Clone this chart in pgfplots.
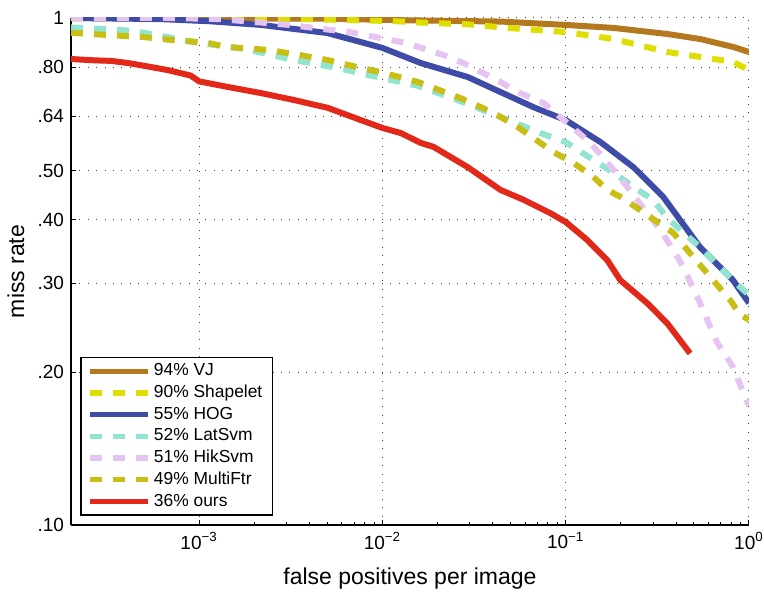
\documentclass[border=0pt]{standalone}
\usepackage{fontspec}
\setmainfont{Liberation Sans}
\usepackage{pgfplots}
\pgfplotsset{compat=1.18}
\definecolor{cVJ}{RGB}{180,120,30}
\definecolor{cShape}{RGB}{222,222,0}
\definecolor{cHOG}{RGB}{62,76,168}
\definecolor{cLat}{RGB}{145,228,208}
\definecolor{cHik}{RGB}{230,196,242}
\definecolor{cMulti}{RGB}{200,190,20}
\definecolor{cOurs}{RGB}{225,40,25}
\begin{document}
\begin{tikzpicture}
\path[use as bounding box] (-35.5pt,-33.5pt) rectangle (346.5pt,262.5pt);
\begin{axis}[
  scale only axis, width=339pt, height=253.5pt,
  xmode=log, ymode=log,
  xmin=2e-4, xmax=1, ymin=0.1, ymax=1,
  axis x line*=bottom, axis y line*=left,
  axis line style={line width=0.6pt,-},
  xtick={0.001,0.01,0.1,1},
  xticklabels={10\textsuperscript{−3},10\textsuperscript{−2},10\textsuperscript{−1},10\textsuperscript{0}},
  ytick={0.1,0.2,0.3,0.4,0.5,0.64,0.8,1},
  yticklabels={.10,.20,.30,.40,.50,.64,.80,1},
  yminorticks=false,
  tick align=inside,
  major tick length=2.5pt, minor tick length=1.3pt,
  tick style={line width=0.5pt,black},
  grid=major,
  major grid style={line width=0.5pt,black!75,dash pattern=on 0.5pt off 3.7pt},
  tick label style={font=\fontsize{9.5}{11}\selectfont},
  xlabel={false positives per image},
  ylabel={miss rate},
  label style={font=\fontsize{11.5}{13}\selectfont},
  xlabel style={at={(axis description cs:0.5,-0.1183)},anchor=base},
  ylabel style={at={(axis description cs:-0.0693,0.5)},anchor=base,rotate=0},
  legend cell align=left,
  legend style={at={(rel axis cs:0,0)},anchor=south west,xshift=4.5pt,yshift=4.5pt,
    draw=black,line width=0.8pt,fill=white,
    font=\fontsize{8.7}{10}\selectfont,
    inner xsep=3.5pt, inner ysep=2.9pt, row sep=2.85pt,
    nodes={inner xsep=1.5pt,inner ysep=0pt,text height=6.3pt,text depth=1.7pt}},
  legend image code/.code={\draw[#1,line width=2.6pt] (0pt,0pt) -- (29pt,0pt);},
  every axis plot/.append style={line width=3pt},
  dashedl/.style={dash pattern=on 6pt off 5.5pt},
]
\addplot[cVJ] coordinates {(2e-4,1.0) (0.005,0.997) (0.0126,0.99) (0.0441,0.984) (0.1,0.969) (0.182,0.956) (0.358,0.93) (0.541,0.909) (0.818,0.877) (1,0.857)};
\addlegendentry{94\% VJ}
\addplot[cShape,dashedl] coordinates {(2e-4,1.0) (0.003,0.997) (0.0115,0.986) (0.019,0.977) (0.029,0.972) (0.05,0.955) (0.1,0.938) (0.182,0.909) (0.358,0.857) (0.541,0.838) (0.818,0.819) (1,0.79)};
\addlegendentry{90\% Shapelet}
\addplot[cHOG] coordinates {(2e-4,1.0) (6.2e-4,0.995) (1.16e-3,0.985) (2.18e-3,0.969) (5.0e-3,0.934) (0.01,0.873) (0.0162,0.815) (0.0292,0.765) (0.0667,0.667) (0.1,0.629) (0.155,0.569) (0.234,0.508) (0.34,0.444) (0.541,0.353) (0.818,0.304) (1,0.274)};
\addlegendentry{55\% HOG}
\addplot[cLat,dashedl] coordinates {(2e-4,0.958) (3.8e-4,0.947) (5e-4,0.935) (1e-3,0.893) (1.76e-3,0.869) (3.3e-3,0.826) (5.7e-3,0.797) (0.01,0.761) (0.0156,0.735) (0.0257,0.689) (0.0441,0.638) (0.0728,0.593) (0.1,0.569) (0.1415,0.525) (0.191,0.49) (0.234,0.464) (0.3,0.438) (0.358,0.403) (0.541,0.353) (0.818,0.304) (1,0.284)};
\addlegendentry{52\% LatSvm}
\addplot[cHik,dashedl] coordinates {(2e-4,1.0) (7e-4,1.0) (1.3e-3,0.995) (3.1e-3,0.969) (6.6e-3,0.938) (0.0134,0.893) (0.0216,0.845) (0.0277,0.815) (0.0441,0.748) (0.0546,0.715) (0.0756,0.68) (0.102,0.621) (0.131,0.574) (0.16,0.532) (0.217,0.464) (0.328,0.382) (0.386,0.349) (0.437,0.323) (0.541,0.274) (0.67,0.229) (0.818,0.205) (0.951,0.179) (1,0.172)};
\addlegendentry{51\% HikSvm}
\addplot[cMulti,dashedl] coordinates {(2e-4,0.935) (3.8e-4,0.922) (5e-4,0.917) (6.2e-4,0.909) (1.12e-3,0.893) (1.41e-3,0.877) (2.38e-3,0.865) (3.3e-3,0.849) (5.04e-3,0.826) (7.63e-3,0.797) (9.8e-3,0.782) (0.0156,0.748) (0.0267,0.695) (0.0404,0.65) (0.0546,0.61) (0.0857,0.544) (0.11,0.518) (0.1415,0.486) (0.1686,0.458) (0.1986,0.444) (0.255,0.418) (0.386,0.377) (0.46,0.349) (0.637,0.304) (0.788,0.278) (0.893,0.26) (1,0.254)};
\addlegendentry{49\% MultiFtr}
\addplot[cOurs] coordinates {(2e-4,0.83) (2.7e-4,0.825) (3.3e-4,0.823) (4.1e-4,0.815) (5e-4,0.805) (6.8e-4,0.789) (9e-4,0.77) (1.0e-3,0.75) (1.44e-3,0.731) (2.18e-3,0.711) (3.3e-3,0.689) (5.04e-3,0.665) (7.63e-3,0.629) (0.01,0.607) (0.0126,0.593) (0.0162,0.567) (0.019,0.557) (0.0292,0.508) (0.0441,0.458) (0.0589,0.438) (0.0826,0.412) (0.1,0.396) (0.131,0.365) (0.1686,0.333) (0.1986,0.304) (0.278,0.274) (0.358,0.25) (0.477,0.218)};
\addlegendentry{36\% ours}
\end{axis}
\end{tikzpicture}
\end{document}
